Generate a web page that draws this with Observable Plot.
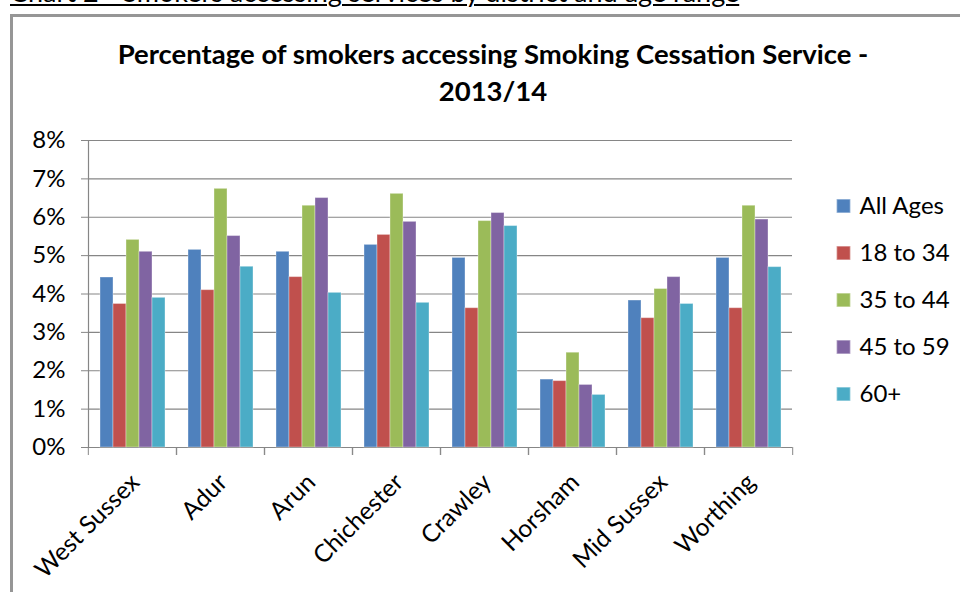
<!DOCTYPE html>
<html>
<head>
<meta charset="utf-8">
<script src="https://cdn.jsdelivr.net/npm/d3@7"></script>
<script src="https://cdn.jsdelivr.net/npm/@observablehq/plot@0.6"></script>
<style>
  html, body { margin: 0; padding: 0; background: #fff; }
  #page { position: relative; width: 960px; height: 592px; overflow: hidden; font-family: Lato, "Open Sans", sans-serif; color: #000; }
  #heading { position: absolute; left: 10px; top: -22px; font-size: 27px; line-height: 27px; white-space: nowrap;
             text-decoration: underline; text-decoration-thickness: 2px; text-underline-offset: 2px; }
  #box { position: absolute; left: 10px; top: 14px; width: 1000px; height: 700px; border: 3px solid #969696; box-sizing: border-box; }
  #title { position: absolute; left: 43px; width: 900px; top: 35px; text-align: center; font-weight: 700; font-size: 27.5px; line-height: 37px; }
  #chart { position: absolute; left: 0; top: 0; }
  #legend { position: absolute; left: 830px; top: 180px; }
</style>
</head>
<body>
<div id="page">
  <div id="heading">Chart 2 - Smokers accessing services by district and age range</div>
  <div id="box"></div>
  <div id="title">Percentage of smokers accessing Smoking Cessation Service -<br>2013/14</div>
  <div id="chart"></div>
  <div id="legend"></div>
</div>
<script>
// Districts along the x axis
const districts = ["West Sussex", "Adur", "Arun", "Chichester", "Crawley", "Horsham", "Mid Sussex", "Worthing"];
// Age ranges (legend order)
const series = ["All Ages", "18 to 34", "35 to 44", "45 to 59", "60+"];
// Percentage of smokers accessing the service, one array per age range, in district order
const allAges  = [4.43, 5.15, 5.10, 5.28, 4.94, 1.77, 3.83, 4.94];
const age18to34 = [3.74, 4.10, 4.44, 5.54, 3.63, 1.73, 3.37, 3.63];
const age35to44 = [5.41, 6.74, 6.30, 6.61, 5.90, 2.47, 4.13, 6.30];
const age45to59 = [5.10, 5.51, 6.50, 5.88, 6.11, 1.63, 4.44, 5.94];
const age60plus = [3.90, 4.71, 4.03, 3.77, 5.77, 1.37, 3.74, 4.70];
// Y axis ticks, in percent
const yTicks = [0, 1, 2, 3, 4, 5, 6, 7, 8];
// Series colours
const colors = ["#4F81BD", "#C0504D", "#9BBB59", "#8064A2", "#4BACC6"];

const seriesValues = [allAges, age18to34, age35to44, age45to59, age60plus];
const rows = districts.flatMap((district, i) =>
  series.map((s, j) => ({district, series: s, value: seriesValues[j][i]}))
);

const W = 960, H = 592, mL = 86, mR = 167, mT = 140, mB = 145;
const facetWidth = (W - mL - mR) / districts.length;
const grey = "#868686";
const font = "Lato, 'Open Sans', sans-serif";

const chart = Plot.plot({
  width: W, height: H,
  marginLeft: mL, marginRight: mR, marginTop: mT, marginBottom: mB,
  style: {background: "none", fontFamily: font, fontSize: "24px", color: "#000", overflow: "visible"},
  fx: {domain: districts, padding: 0, label: null},
  x: {domain: series, paddingInner: 0, paddingOuter: 0.76, axis: null},
  y: {domain: [0, 8], label: null},
  color: {domain: series, range: colors},
  marks: [
    Plot.gridY(yTicks, {stroke: grey, strokeOpacity: 1, strokeWidth: 1.2}),
    Plot.frame({anchor: "left", facetAnchor: "left", stroke: grey, strokeWidth: 1.2}),
    Plot.axisY(yTicks, {tickSize: 7, tickPadding: 16, tickFormat: d => d + "%", stroke: grey, strokeOpacity: 1,
                        fill: "#000", fontSize: 24, label: null}),
    // category boundary ticks under the axis
    Plot.axisFx({anchor: "bottom", tickSize: 8, tickFormat: () => "", dx: -facetWidth / 2, stroke: grey, strokeOpacity: 1, label: null}),
    Plot.axisFx({anchor: "bottom", tickSize: 8, tickFormat: () => "", dx: facetWidth / 2, stroke: grey, strokeOpacity: 1, label: null}),
    Plot.barY(rows, {fx: "district", x: "series", y: "value", fill: "series",
                     stroke: "#fff", strokeOpacity: 0.35, strokeWidth: 1}),
    Plot.text(districts, {fx: d => d, text: d => d, frameAnchor: "bottom", rotate: -45,
                          textAnchor: "end", lineAnchor: "top", dy: 24, dx: -4, fontSize: 24.5, fill: "#000"})
  ]
});
document.getElementById("chart").append(chart);

const legend = Plot.plot({
  width: 130, height: 238, margin: 0,
  style: {background: "none", fontFamily: font, fontSize: "24px", color: "#000", overflow: "visible"},
  x: {axis: null},
  y: {domain: series, type: "band", padding: 0, axis: null},
  color: {domain: series, range: colors},
  marks: [
    Plot.dot(series, {y: d => d, fill: d => d, symbol: "square", r: 7.8, frameAnchor: "left", dx: 13,
                      stroke: "#fff", strokeOpacity: 0.4}),
    Plot.text(series, {y: d => d, text: d => d, frameAnchor: "left", dx: 29, textAnchor: "start",
                       fontSize: 24, fill: "#000"})
  ]
});
document.getElementById("legend").append(legend);
</script>
</body>
</html>
